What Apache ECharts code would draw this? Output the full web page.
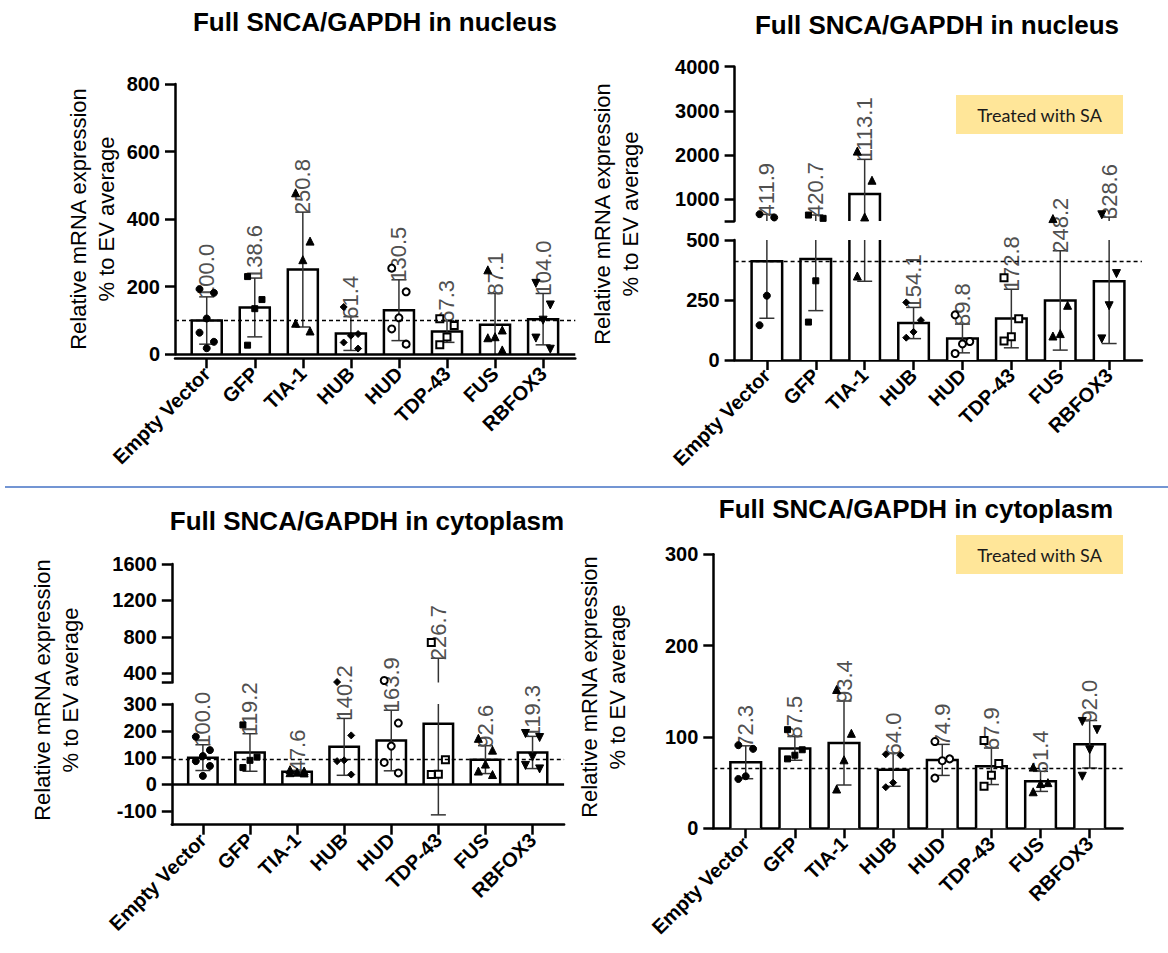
<!DOCTYPE html>
<html><head><meta charset="utf-8">
<script src="https://cdn.jsdelivr.net/npm/echarts@6/dist/echarts.min.js"></script>
<style>html,body{margin:0;padding:0;background:#fff;}#c{width:1168px;height:953px;}</style>
</head><body><div id="c"></div>
<script>
// ---------------- data ----------------
const categories = ['Empty Vector', 'GFP', 'TIA-1', 'HUB', 'HUD', 'TDP-43', 'FUS', 'RBFOX3'];

// Panel 1: Full SNCA/GAPDH in nucleus
const nucMean = [100.0, 138.6, 250.8, 61.4, 130.5, 67.3, 87.1, 104.0];
const nucSD = [70, 87, 170, 50, 90, 32, 93, 76];
const nucPoints = [
  [193, 182, 106, 64, 37, 18],
  [230, 162, 135, 27],
  [478, 335, 280, 92, 69],
  [140, 60, 55, 35, 17],
  [255, 185, 108, 75, 30],
  [105, 85, 51, 28],
  [250, 72, 52, 49, 13],
  [210, 146, 101, 48, 15]
];
const nucRef = 100;
const nucTicks = [0, 200, 400, 600, 800];

// Panel 2: Full SNCA/GAPDH in nucleus, treated with SA
const saNucMean = [411.9, 420.7, 1113.1, 154.1, 89.8, 172.8, 248.2, 328.6];
const saNucSD = [238, 215, 785, 65, 60, 122, 207, 260];
const saNucPoints = [
  [655, 580, 268, 145],
  [635, 560, 330, 158],
  [2085, 1425, 592, 350],
  [240, 166, 117, 93],
  [188, 77, 67, 27],
  [343, 172, 97, 79],
  [555, 228, 110, 100],
  [640, 360, 226, 88]
];
const saNucRef = 410;
const saNucTicksUpper = [1000, 2000, 3000, 4000];
const saNucTicksLower = [0, 250, 500];

// Panel 3: Full SNCA/GAPDH in cytoplasm
const cytMean = [100.0, 119.2, 47.6, 140.2, 163.9, 226.7, 92.6, 119.3];
const cytSD = [48, 70, 5, 106, 113, 340, 52, 60];
const cytPoints = [
  [178, 128, 106, 87, 69, 32],
  [222, 102, 90, 63],
  [55, 50, 46, 44, 43],
  [305, 183, 90, 87, 37],
  [322, 229, 143, 82, 43],
  [740, 92, 38, 37],
  [172, 128, 76, 50, 37],
  [190, 175, 102, 71, 58]
];
const cytRef = 95;
const cytTicksUpper = [400, 800, 1200, 1600];
const cytTicksLower = [-100, 0, 100, 200, 300];

// Panel 4: Full SNCA/GAPDH in cytoplasm, treated with SA
const saCytMean = [72.3, 87.5, 93.4, 64.0, 74.9, 67.9, 51.4, 92.0];
const saCytSD = [18, 13, 46, 18, 17, 20, 11, 26];
const saCytPoints = [
  [91, 87, 57, 54],
  [108, 86, 80, 76],
  [152, 104, 75, 43],
  [81, 80, 50, 45],
  [95, 76, 74, 55],
  [96, 71, 58, 46],
  [67, 50, 49, 40],
  [117, 108, 86, 57]
];
const saCytRef = 66;
const saCytTicks = [0, 100, 200, 300];

const titleNucleus = 'Full SNCA/GAPDH in nucleus';
const titleCytoplasm = 'Full SNCA/GAPDH in cytoplasm';
const yName = 'Relative mRNA expression\n% to EV average';
const boxText = 'Treated with SA';

// ---------------- styles ----------------
const FONT = "'Liberation Sans', Arial, Helvetica, sans-serif";
const symbols = ['circle', 'rect', 'triangle', 'diamond', 'emptyCircle', 'emptyRect', 'triangle', 'triangle'];
const symbolRot = [0, 0, 0, 0, 0, 0, 0, 180];
const symbolSizes = [7, 6, 8, 7, 7, 7, 8, 8];
const jitter = [-0.15, 0.15, 0, -0.15, 0.15, 0];
const XMIN = -0.66, XMAX = 7.67;
const catIdx = categories.map((c, i) => i);

function pointData(points) {
  const out = [];
  points.forEach((grp, i) => grp.forEach((v, k) => {
    out.push({ value: [i + jitter[k % 6], v], symbol: symbols[i], symbolRotate: symbolRot[i], symbolSize: symbolSizes[i] });
  }));
  return out;
}

function barSeries(g, means, base, segMax) {
  return {
    type: 'custom', xAxisIndex: g, yAxisIndex: g, z: 2, silent: true,
    data: means.map((m, i) => [i, m]),
    renderItem(params, api) {
      const i = api.value(0), m = api.value(1);
      if (m <= base) return { type: 'group', children: [] };
      const top = Math.min(m, segMax);
      const p0 = api.coord([i, base]), p1 = api.coord([i, top]);
      const w = api.size([1, 0])[0] * 0.625;
      const xl = p0[0] - w / 2, xr = p0[0] + w / 2;
      const st = { stroke: '#000', lineWidth: 2.5, fill: null };
      const kids = [{ type: 'rect', shape: { x: xl, y: p1[1], width: w, height: p0[1] - p1[1] }, style: { fill: '#fff' } }];
      if (m <= segMax) {
        kids.push({ type: 'polyline', shape: { points: [[xl, p0[1]], [xl, p1[1]], [xr, p1[1]], [xr, p0[1]]] }, style: st });
      } else {
        kids.push({ type: 'line', shape: { x1: xl, y1: p0[1], x2: xl, y2: p1[1] }, style: st });
        kids.push({ type: 'line', shape: { x1: xr, y1: p0[1], x2: xr, y2: p1[1] }, style: st });
      }
      return { type: 'group', children: kids };
    }
  };
}

function errSeries(g, means, sds, segMin, segMax) {
  return {
    type: 'custom', xAxisIndex: g, yAxisIndex: g, z: 3, silent: true,
    data: means.map((m, i) => [i, m, sds[i]]),
    renderItem(params, api) {
      const i = api.value(0), m = api.value(1), s = api.value(2);
      const lo = m - s, hi = m + s;
      const a = Math.max(lo, segMin), b = Math.min(hi, segMax);
      const kids = [];
      const cap = 7.5;
      const ls = { stroke: '#333', lineWidth: 1.5 };
      if (a < b) {
        const pa = api.coord([i, a]), pb = api.coord([i, b]);
        kids.push({ type: 'line', shape: { x1: pa[0], y1: pa[1], x2: pb[0], y2: pb[1] }, style: ls });
      }
      [lo, hi].forEach(v => {
        if (v >= segMin && v <= segMax) {
          const p = api.coord([i, v]);
          kids.push({ type: 'line', shape: { x1: p[0] - cap, y1: p[1], x2: p[0] + cap, y2: p[1] }, style: ls });
        }
      });
      if (hi >= segMin && hi <= segMax) {
        const p = api.coord([i, hi]);
        kids.push({
          type: 'text', x: p[0], y: p[1] + 2, rotation: Math.PI / 2, z2: 5,
          style: { text: m.toFixed(1), fill: '#505050', fontSize: 22, fontFamily: FONT,
                   align: 'left', verticalAlign: 'middle', textAlign: 'left', textVerticalAlign: 'middle' }
        });
      }
      return { type: 'group', children: kids };
    }
  };
}

function scatterSeries(g, points, markData) {
  const s = {
    type: 'scatter', xAxisIndex: g, yAxisIndex: g, z: 4, clip: true, silent: true,
    itemStyle: { color: '#000', borderColor: '#000', opacity: 1 },
    data: pointData(points)
  };
  if (markData) {
    s.markLine = {
      symbol: 'none', silent: true, label: { show: false }, animation: false,
      lineStyle: { color: '#000', type: [4, 3], width: 1.3 },
      data: markData
    };
  }
  return s;
}

function xAxisCfg(g, show, offset) {
  return {
    type: 'value', gridIndex: g, min: XMIN, max: XMAX, show: show, offset: offset || 0,
    splitLine: { show: false },
    axisLine: { show: true, onZero: false, lineStyle: { color: '#000', width: 2.5 } },
    axisTick: { show: true, customValues: catIdx, length: 10, lineStyle: { color: '#000', width: 2.5 } },
    axisLabel: {
      show: true, customValues: catIdx, rotate: 45, margin: 12,
      formatter: v => categories[Math.round(v)] || '',
      color: '#000', fontSize: 20, fontWeight: 'bold', fontFamily: FONT
    }
  };
}

function yAxisCfg(g, min, max, labels, ticks) {
  return {
    type: 'value', gridIndex: g, min: min, max: max,
    splitLine: { show: false },
    axisLine: { show: true, onZero: false, lineStyle: { color: '#000', width: 2.5 } },
    axisTick: { show: true, customValues: ticks || labels, length: 10, lineStyle: { color: '#000', width: 2.5 } },
    axisLabel: { show: true, customValues: labels, margin: 15, formatter: v => String(v),
                 color: '#000', fontSize: 20, fontWeight: 'bold', fontFamily: FONT }
  };
}

const dashed = v => ({ yAxis: v });
const solid0 = { yAxis: 0, lineStyle: { type: 'solid', width: 2.5, color: '#000' } };

const grids = [
  { left: 175, top: 84, width: 400.3, height: 270.3 },          // 0 panel 1
  { left: 734.6, top: 66.7, width: 407.3, height: 154.3 },      // 1 panel 2 upper
  { left: 734.6, top: 240, width: 407.3, height: 120 },         // 2 panel 2 lower
  { left: 171.8, top: 564, width: 392.3, height: 118.5 },       // 3 panel 3 upper
  { left: 171.8, top: 704, width: 392.3, height: 120.7 },       // 4 panel 3 lower
  { left: 713.3, top: 554.3, width: 409.3, height: 274 }        // 5 panel 4
].map(g => Object.assign({ containLabel: false }, g));

const xAxes = [
  xAxisCfg(0, true, 4),
  xAxisCfg(1, false),
  xAxisCfg(2, true),
  xAxisCfg(3, false),
  xAxisCfg(4, true),
  xAxisCfg(5, true)
];

const yAxes = [
  yAxisCfg(0, 0, 800, nucTicks),
  yAxisCfg(1, 500, 4000, saNucTicksUpper, [500].concat(saNucTicksUpper)),
  yAxisCfg(2, 0, 500, saNucTicksLower),
  yAxisCfg(3, 300, 1600, cytTicksUpper, [300].concat(cytTicksUpper)),
  yAxisCfg(4, -150, 300, cytTicksLower),
  yAxisCfg(5, 0, 300, saCytTicks)
];

const series = [
  // panel 1
  barSeries(0, nucMean, 0, 800),
  errSeries(0, nucMean, nucSD, 0, 800),
  scatterSeries(0, nucPoints, [dashed(nucRef), solid0]),
  // panel 2 upper / lower
  barSeries(1, saNucMean, 500, 4000),
  errSeries(1, saNucMean, saNucSD, 500, 4000),
  scatterSeries(1, saNucPoints),
  barSeries(2, saNucMean, 0, 500),
  errSeries(2, saNucMean, saNucSD, 0, 500),
  scatterSeries(2, saNucPoints, [dashed(saNucRef)]),
  // panel 3 upper / lower
  barSeries(3, cytMean, 300, 1600),
  errSeries(3, cytMean, cytSD, 300, 1600),
  scatterSeries(3, cytPoints),
  barSeries(4, cytMean, 0, 300),
  errSeries(4, cytMean, cytSD, -150, 300),
  scatterSeries(4, cytPoints, [dashed(cytRef), solid0]),
  // panel 4
  barSeries(5, saCytMean, 0, 300),
  errSeries(5, saCytMean, saCytSD, 0, 300),
  scatterSeries(5, saCytPoints, [dashed(saCytRef)])
];

function titleText(x, y, text) {
  return { type: 'text', x: x, y: y, z: 10,
    style: { text: text, fill: '#000', font: 'bold 26px ' + FONT, textAlign: 'center', textVerticalAlign: 'middle' } };
}
function yNameText(x, y) {
  return { type: 'text', x: x, y: y, rotation: Math.PI / 2, z: 10,
    style: { text: yName, fill: '#000', fontSize: 22, fontFamily: FONT, lineHeight: 28, textAlign: 'center', textVerticalAlign: 'middle' } };
}
function saBox(x, y) {
  return { type: 'group', x: x, y: y, z: 10, children: [
    { type: 'rect', shape: { x: 0, y: 0, width: 167, height: 39 }, style: { fill: '#FFE699' } },
    { type: 'text', x: 83.5, y: 19.5, style: { text: boxText, fill: '#1a1a1a', font: '18px Lato, "Open Sans", sans-serif', textAlign: 'center', textVerticalAlign: 'middle' } }
  ] };
}

const option = {
  animation: false,
  backgroundColor: '#fff',
  grid: grids,
  xAxis: xAxes,
  yAxis: yAxes,
  series: series,
  graphic: [
    { type: 'line', shape: { x1: 5, y1: 487, x2: 1168, y2: 487 }, style: { stroke: '#4472C4', lineWidth: 1.5 } },
    titleText(375, 22, titleNucleus),
    titleText(937, 25, titleNucleus),
    titleText(367, 521, titleCytoplasm),
    titleText(916, 509, titleCytoplasm),
    yNameText(92.5, 219),
    yNameText(616, 214),
    yNameText(56, 690),
    yNameText(603, 687),
    saBox(956, 95),
    saBox(956, 535)
  ]
};

const chart = echarts.init(document.getElementById('c'), null, { renderer: 'svg' });
chart.setOption(option);
</script></body></html>
